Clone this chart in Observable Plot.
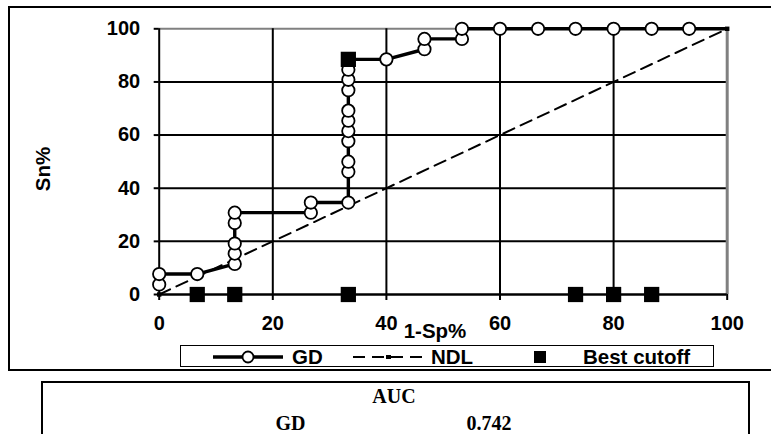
<!DOCTYPE html>
<html>
<head>
<meta charset="utf-8">
<script src="https://cdn.jsdelivr.net/npm/d3@7"></script>
<script src="https://cdn.jsdelivr.net/npm/@observablehq/plot@0.6"></script>
<style>
  html, body { margin: 0; padding: 0; background: #fff; overflow: hidden; }
  #wrap { position: relative; width: 771px; height: 434px; overflow: hidden; background: #fff; }
  #frame { position: absolute; left: 8px; top: 6px; width: 820px; height: 365px; box-sizing: border-box; border: 2px solid #000; }
  #chart { position: absolute; left: 0; top: 0; }
  #aucbox { position: absolute; left: 41px; top: 381px; width: 709px; height: 90px; box-sizing: border-box; border: 2.5px solid #000; }
  #legendbox { position: absolute; left: 180px; top: 345px; width: 534px; height: 22px; box-sizing: border-box; border: 1.5px solid #000; background: #fff; }
  #overlay { position: absolute; left: 0; top: 0; pointer-events: none; }
</style>
</head>
<body>
<div id="wrap">
  <div id="frame"></div>
  <div id="chart"></div>
  <div id="legendbox"></div>
  <div id="aucbox"></div>
  <svg id="overlay" width="771" height="434"></svg>
</div>
<script>
// ---- data ----
const gdX = [0, 0, 6.7, 13.3, 13.3, 13.3, 13.3, 13.3, 26.7, 26.7, 33.3, 33.3, 33.3, 33.3, 33.3, 33.3, 33.3, 33.3, 33.3, 33.3, 33.3, 40, 46.7, 46.7, 53.3, 53.3, 60, 66.7, 73.3, 80, 86.7, 93.3, 100];
const gdY = [3.8, 7.7, 7.7, 11.5, 15.4, 19.2, 26.9, 30.8, 30.8, 34.6, 34.6, 46.2, 50, 57.7, 61.5, 65.4, 69.2, 76.9, 80.8, 84.6, 88.5, 88.5, 92.3, 96.2, 96.2, 100, 100, 100, 100, 100, 100, 100, 100];
const gdMarker = gdX.map((_, i) => i < gdX.length - 1); // last vertex has no circle
const ndlX = [0, 100];
const ndlY = [0, 100];
const bestX = [6.7, 13.3, 33.3, 73.3, 80, 86.7, 33.3];
const bestY = [0, 0, 0, 0, 0, 0, 88.5];
const tickValues = [0, 20, 40, 60, 80, 100];
const innerGrid = [20, 40, 60, 80];
const xTitle = "1-Sp%";
const yTitle = "Sn%";
const legendLabels = ["GD", "NDL", "Best cutoff"];
const aucHeader = "AUC";
const aucRows = ["GD"];
const aucValues = ["0.742"];

// ---- build tables ----
const gd = gdX.map((x, i) => ({x, y: gdY[i], m: gdMarker[i]}));
const ndl = ndlX.map((x, i) => ({x, y: ndlY[i]}));
const best = bestX.map((x, i) => ({x, y: bestY[i]}));

const W = 771, H = 340;
const chart = Plot.plot({
  width: W,
  height: H,
  marginLeft: 158.7,
  marginRight: W - 726.7,
  marginTop: 28.3,
  marginBottom: H - 294,
  style: {fontFamily: "'Liberation Sans', Arial, sans-serif", fontWeight: "bold", fontSize: "20px", background: "transparent", overflow: "visible"},
  x: {domain: [0, 100]},
  y: {domain: [0, 100]},
  marks: [
    Plot.ruleY(innerGrid, {stroke: "#000", strokeWidth: 2}),
    Plot.ruleY([100], {stroke: "#808080", strokeWidth: 2}),
    Plot.ruleX(innerGrid, {y1: 0, y2: 100, stroke: "#000", strokeWidth: 2}),
    Plot.ruleX([100], {y1: 0, y2: 100, stroke: "#808080", strokeWidth: 3}),
    Plot.ruleX([0], {y1: 0, y2: 100, stroke: "#000", strokeWidth: 2}),
    Plot.ruleY([0], {x1: 0, x2: 100, stroke: "#000", strokeWidth: 2.5}),
    Plot.axisX(tickValues, {tickSize: 6, tickPadding: 15, fontSize: 20, fontWeight: "bold", stroke: "#000", strokeWidth: 2, label: null, fill: "#000"}),
    Plot.axisY(tickValues, {tickSize: 5, tickPadding: 14, fontSize: 20, fontWeight: "bold", stroke: "#000", strokeWidth: 2, label: null, fill: "#000"}),
    Plot.line(ndl, {x: "x", y: "y", stroke: "#000", strokeWidth: 2, strokeDasharray: "12,7"}),
    Plot.dot(ndl, {x: "x", y: "y", symbol: "square", r: 2.5, fill: "#000"}),
    Plot.line(gd, {x: "x", y: "y", stroke: "#000", strokeWidth: 3.4, curve: "linear"}),
    Plot.dot(gd.filter(d => d.m), {x: "x", y: "y", r: 6.2, fill: "#fff", stroke: "#000", strokeWidth: 1.8}),
    Plot.dot(best, {x: "x", y: "y", symbol: "square", r: 8.6, fill: "#000", stroke: "none"})
  ]
});
document.getElementById("chart").appendChild(chart);

// ---- overlay: titles, legend, table ----
const ov = d3.select("#overlay");
const sans = "'Liberation Sans', Arial, sans-serif";
const serif = "'Liberation Serif', 'Times New Roman', serif";

ov.append("text").attr("x", 435).attr("y", 338).attr("text-anchor", "middle")
  .attr("font-family", sans).attr("font-weight", "bold").attr("font-size", 20.5).text(xTitle);
ov.append("text").attr("transform", "translate(50,169) rotate(-90)").attr("text-anchor", "middle")
  .attr("font-family", sans).attr("font-weight", "bold").attr("font-size", 20.5).text(yTitle);

// legend
const ly = 357;
ov.append("line").attr("x1", 213).attr("x2", 283).attr("y1", ly).attr("y2", ly).attr("stroke", "#000").attr("stroke-width", 3.4);
ov.append("circle").attr("cx", 248).attr("cy", ly).attr("r", 5.5).attr("fill", "#fff").attr("stroke", "#000").attr("stroke-width", 1.8);
ov.append("text").attr("x", 292).attr("y", 363.5).attr("font-family", sans).attr("font-weight", "bold").attr("font-size", 20.5).text(legendLabels[0]);
ov.append("line").attr("x1", 353).attr("x2", 422).attr("y1", ly).attr("y2", ly).attr("stroke", "#000").attr("stroke-width", 2).attr("stroke-dasharray", "12,7");
ov.append("rect").attr("x", 386).attr("y", ly - 2).attr("width", 5).attr("height", 4).attr("fill", "#000");
ov.append("text").attr("x", 431).attr("y", 363.5).attr("font-family", sans).attr("font-weight", "bold").attr("font-size", 20.5).text(legendLabels[1]);
ov.append("rect").attr("x", 534).attr("y", ly - 6).attr("width", 12).attr("height", 12).attr("fill", "#000");
ov.append("text").attr("x", 583).attr("y", 363.5).attr("font-family", sans).attr("font-weight", "bold").attr("font-size", 20.5).text(legendLabels[2]);

// AUC table
ov.append("text").attr("x", 394).attr("y", 403).attr("text-anchor", "middle")
  .attr("font-family", serif).attr("font-weight", "bold").attr("font-size", 20).text(aucHeader);
aucRows.forEach((r, i) => {
  ov.append("text").attr("x", 290.5).attr("y", 430 + i * 25).attr("text-anchor", "middle")
    .attr("font-family", serif).attr("font-weight", "bold").attr("font-size", 20).text(r);
  ov.append("text").attr("x", 489).attr("y", 430 + i * 25).attr("text-anchor", "middle")
    .attr("font-family", serif).attr("font-weight", "bold").attr("font-size", 20).text(aucValues[i]);
});
</script>
</body>
</html>
